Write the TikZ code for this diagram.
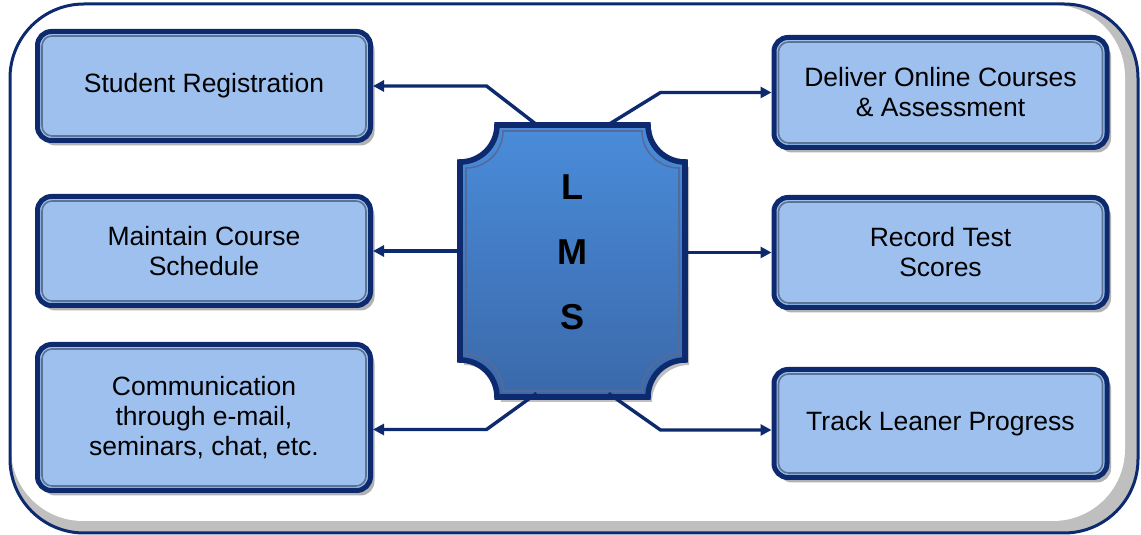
\documentclass[tikz,border=0pt]{standalone}
\usepackage{fontspec}
\setmainfont{Liberation Sans}
\usetikzlibrary{positioning, shadows, arrows.meta}

\definecolor{lmsnavy}{HTML}{0D2A6E}
\definecolor{boxblue}{HTML}{9DC0EF}
\definecolor{bevelgray}{HTML}{5E7391}
\definecolor{lmstop}{HTML}{4A8CDA}
\definecolor{lmsbot}{HTML}{3A69AA}

\tikzset{
  taskbox/.style={draw=lmsnavy, line width=2.5pt, fill=boxblue, rounded corners=7pt,
    minimum width=166.5pt, align=center, font=\fontsize{13.25}{15}\selectfont,
    drop shadow={shadow xshift=2pt, shadow yshift=-2.5pt, fill=black!55, opacity=.55}},
  bevel/.style={draw=bevelgray, line width=.8pt, rounded corners=5pt},
  link/.style={lmsnavy, line width=1.7pt, -{Triangle[length=5.5pt,width=5.5pt]}},
  lmsletters/.style={align=center, font=\fontsize{18}{32.5}\selectfont\bfseries},
}

\begin{document}
\begin{tikzpicture}[x=0.5pt, y=0.5pt]
    \useasboundingbox (0,0) rectangle (1141,535);
    % outer frame
    \fill[black!25, rounded corners=37pt] (10,2) rectangle (1138,531);
    \fill[white, rounded corners=36pt] (11,14) rectangle (1125,530);
    \draw[lmsnavy, line width=1.5pt, rounded corners=37pt] (10,2) rectangle (1138,531);

    % task boxes
    \node[taskbox, minimum height=54.5pt] (reg) at (204,449) {Student Registration};
    \node[taskbox, minimum height=54.5pt] (sched) at (204,284) {Maintain Course\\Schedule};
    \node[taskbox, minimum height=73pt] (comm) at (204,117.5) {Communication\\through e-mail,\\seminars, chat, etc.};
    \node[taskbox, minimum height=55pt] (deliver) at (940.5,442.5) {Deliver Online Courses\\\& Assessment};
    \node[taskbox, minimum height=55pt] (scores) at (940.5,282.5) {Record Test\\Scores};
    \node[taskbox, minimum height=54pt] (track) at (940.5,111.5) {Track Leaner Progress};
    \foreach \b in {reg, sched, comm, deliver, scores, track}
      \draw[bevel] ([shift={(3.5pt,-3.5pt)}]\b.north west) rectangle ([shift={(-3.5pt,3.5pt)}]\b.south east);

    % LMS plate
    \shadedraw[top color=lmstop, bottom color=lmsbot, draw=lmsnavy, line width=2.8pt,
      drop shadow={shadow xshift=2pt, shadow yshift=-2.5pt, fill=black!55, opacity=.45}]
      (497,410) -- (648,410) arc[start angle=180, end angle=270, radius=37]
      -- (685,175) arc[start angle=90, end angle=180, radius=37]
      -- (497,138) arc[start angle=0, end angle=90, radius=37]
      -- (460,373) arc[start angle=270, end angle=360, radius=37] -- cycle;
    \draw[bevel, rounded corners=0pt, draw=lmsnavy!70]
      (503,404) -- (642,404) arc[start angle=180, end angle=270, radius=37]
      -- (679,181) arc[start angle=90, end angle=180, radius=37]
      -- (503,144) arc[start angle=0, end angle=90, radius=37]
      -- (466,367) arc[start angle=270, end angle=360, radius=37] -- cycle;
    \node[minimum width=112.5pt, minimum height=136pt] (lms) at (572.5,274) {};
    \node[lmsletters] (lmslabel) at (572.5,283) {L\\M\\S};

    % connectors
    \coordinate (commin) at ([yshift=-6pt]comm.east);
    \coordinate (trackin) at ([yshift=-3.25pt]track.west);
    \draw[link] ([xshift=-18pt]lms.north) -- ([xshift=-43pt]lms.north |- reg.east) -- (reg.east);
    \draw[link] ([xshift=18pt]lms.north) -- ([xshift=44pt]lms.north |- deliver.west) -- (deliver.west);
    \draw[link] (lms.west |- sched.east) -- (sched.east);
    \draw[link] (lms.east |- scores.west) -- (scores.west);
    \draw[link] ([xshift=-18pt,yshift=2pt]lms.south) -- ([xshift=-43pt]lms.south |- commin) -- (commin);
    \draw[link] ([xshift=18pt,yshift=2pt]lms.south) -- ([xshift=44pt]lms.south |- trackin) -- (trackin);
\end{tikzpicture}
\end{document}
